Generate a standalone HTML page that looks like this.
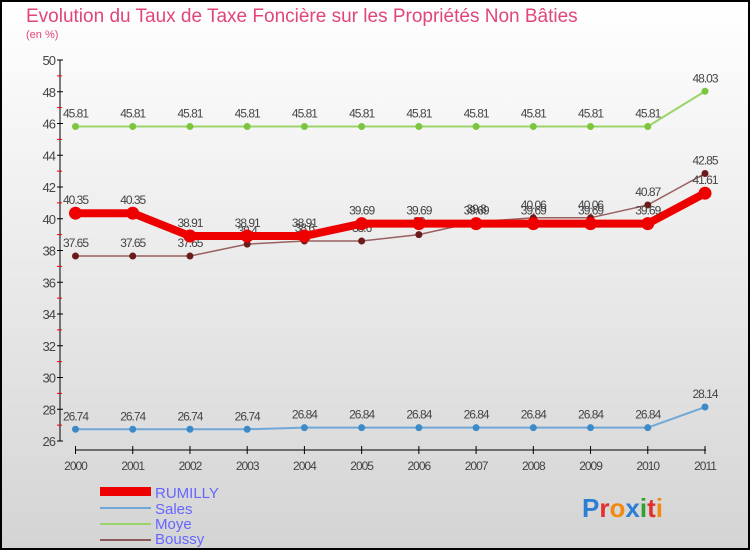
<!DOCTYPE html>
<html><head><meta charset="utf-8"><style>
body{margin:0;width:750px;height:550px;overflow:hidden;font-family:"Liberation Sans",sans-serif}
svg text{font-family:"Liberation Sans",sans-serif}
</style></head><body>
<svg id="c" width="750" height="550" xmlns="http://www.w3.org/2000/svg">
<defs><linearGradient id="bg" x1="0" y1="0" x2="0" y2="1"><stop offset="0" stop-color="#ffffff"/><stop offset="1" stop-color="#d4d4d4"/></linearGradient></defs>
<rect x="1" y="1" width="748" height="548" fill="url(#bg)" stroke="#000" stroke-width="2"/>
<text x="26" y="22" font-size="19" fill="#e0457b">Evolution du Taux de Taxe Foncière sur les Propriétés Non Bâties</text>
<text x="26" y="38" font-size="11" fill="#e0457b">(en %)</text>
<g id="axes"></g><g id="series"></g>
<g>
<rect x="100" y="487" width="51" height="9" fill="#e00"/>
<text x="155" y="498" font-size="15" fill="#6666ff">RUMILLY</text>
<line x1="100" y1="508" x2="151" y2="508" stroke="#6fa8d6" stroke-width="2"/>
<text x="155" y="514" font-size="15" fill="#6666ff">Sales</text>
<line x1="100" y1="524" x2="151" y2="524" stroke="#9ad46b" stroke-width="2"/>
<text x="155" y="529" font-size="15" fill="#6666ff">Moye</text>
<line x1="100" y1="540" x2="151" y2="540" stroke="#8c5a5a" stroke-width="2"/>
<text x="155" y="544" font-size="15" fill="#6666ff">Boussy</text>
</g>
<text x="582" y="517" font-size="26" font-weight="bold"><tspan fill="#2a7fd4">P</tspan><tspan fill="#e03030">r</tspan><tspan fill="#f08a10">o</tspan><tspan fill="#2a7fd4">x</tspan><tspan fill="#30a030">i</tspan><tspan fill="#e03030">t</tspan><tspan fill="#f08a10">i</tspan></text>
</svg>
<script>
const years=["2000","2001","2002","2003","2004","2005","2006","2007","2008","2009","2010","2011"];
const yTicks=[26,28,30,32,34,36,38,40,42,44,46,48,50];
const rumilly=[40.35,40.35,38.91,38.91,38.91,39.69,39.69,39.69,39.69,39.69,39.69,41.61];
const sales=[26.74,26.74,26.74,26.74,26.84,26.84,26.84,26.84,26.84,26.84,26.84,28.14];
const moye=[45.81,45.81,45.81,45.81,45.81,45.81,45.81,45.81,45.81,45.81,45.81,48.03];
const boussy=[37.65,37.65,37.65,38.4,38.6,38.6,39,39.8,40.06,40.06,40.87,42.85];
const NS="http://www.w3.org/2000/svg";
const xs=i=>75.5+i*(705-75.5)/(years.length-1);
const ys=v=>441-(v-26)*(441-60)/24;
function mk(t,a,p){const e=document.createElementNS(NS,t);for(const k in a)e.setAttribute(k,a[k]);p.appendChild(e);return e;}
const ax=document.getElementById('axes');
mk('line',{x1:60,y1:60,x2:60,y2:441,stroke:'#000'},ax);
mk('line',{x1:75,y1:450,x2:706,y2:450,stroke:'#000'},ax);
yTicks.forEach(v=>{
 mk('line',{x1:57,y1:ys(v),x2:63,y2:ys(v),stroke:'#000'},ax);
 if(v<50)mk('line',{x1:57,y1:ys(v+1),x2:62,y2:ys(v+1),stroke:'#e00'},ax);
 const t=mk('text',{x:55,y:ys(v)+5,'font-size':13,'text-anchor':'end',fill:'#444','letter-spacing':'-1'},ax);t.textContent=v;
 
 
});
years.forEach((y,i)=>{
 mk('line',{x1:xs(i),y1:446,x2:xs(i),y2:454,stroke:'#000'},ax);
 const t=mk('text',{x:xs(i),y:470,'font-size':12,'text-anchor':'middle',fill:'#444','letter-spacing':'-1'},ax);t.textContent=y;
 
 
});
const sg=document.getElementById('series');
function draw(name,vals,color,w,r,dot){
 const g=mk('g',{},sg);
 
 
 mk('polyline',{points:vals.map((v,i)=>xs(i)+','+ys(v)).join(' '),fill:'none',stroke:color,'stroke-width':w},g);
 vals.forEach((v,i)=>{
  const c=mk('circle',{cx:xs(i),cy:ys(v),r:r,fill:dot},g);
  
  
  const t=mk('text',{x:xs(i),y:ys(v)-9,'font-size':12,'text-anchor':'middle',fill:'#444','letter-spacing':'-1'},g);
  t.textContent=String(v);
  
  
 });
}
draw('boussy',boussy,'#9a6060',1.5,3.5,'#6a1c1c');
draw('moye',moye,'#9ad46b',2,3.5,'#7cc63e');
draw('sales',sales,'#6fa8d6',2,3.5,'#3d8ac8');
draw('rumilly',rumilly,'#ee0000',8,6.5,'#ee0000');
</script>
</body></html>
